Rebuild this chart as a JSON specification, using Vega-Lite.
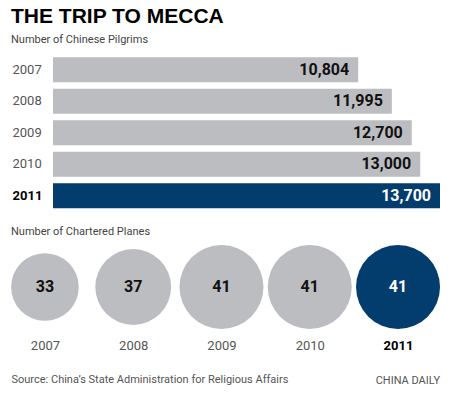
{
  "$schema": "https://vega.github.io/schema/vega-lite/v6.json",
  "background": "white",
  "padding": {"left": 11, "top": 6, "right": 10, "bottom": 4},
  "columns": 1,
  "spacing": 14,
  "title": {"text": "CHINA DAILY", "orient": "bottom", "anchor": "end", "font": "Roboto", "fontSize": 11, "fontWeight": "normal", "color": "#555555", "offset": -9},
  "config": {"view": {"stroke": null}, "font": "Roboto"},
  "concat": [
    {
      "width": 429,
      "height": {"step": 31.5},
      "title": {"text": "THE TRIP TO MECCA", "subtitle": "Number of Chinese Pilgrims", "anchor": "start", "font": "Liberation Sans", "fontSize": 21, "fontWeight": "bold", "color": "#000000", "subtitleFont": "Roboto", "subtitleFontSize": 11, "subtitleColor": "#444444", "subtitlePadding": 7, "offset": 9},
      "data": {"values": [
        {"year": "2007", "pilgrims": 10804},
        {"year": "2008", "pilgrims": 11995},
        {"year": "2009", "pilgrims": 12700},
        {"year": "2010", "pilgrims": 13000},
        {"year": "2011", "pilgrims": 13700}
      ]},
      "encoding": {
        "y": {"field": "year", "type": "ordinal", "scale": {"paddingInner": 0.2, "paddingOuter": 0.1},
          "axis": {"title": null, "domain": false, "ticks": false, "tickSize": 0, "labelAlign": "left", "labelPadding": -1, "labelFont": "Roboto", "labelFontSize": 13,
            "labelColor": {"condition": {"test": "datum.value == '2011'", "value": "#000000"}, "value": "#555555"},
            "labelFontWeight": {"condition": {"test": "datum.value == '2011'", "value": "bold"}, "value": "normal"}}},
        "x": {"field": "pilgrims", "type": "quantitative", "scale": {"nice": false, "domain": [-1487, 13700]}, "axis": null}
      },
      "layer": [
        {"mark": {"type": "bar"},
         "encoding": {"color": {"condition": {"test": "datum.year == '2011'", "value": "#023d6e"}, "value": "#bcbdc0"}}},
        {"mark": {"type": "text", "align": "right", "dx": -9, "font": "Roboto", "fontSize": 16, "fontWeight": "bold"},
         "encoding": {"text": {"field": "pilgrims", "type": "quantitative", "format": ","},
           "color": {"condition": {"test": "datum.year == '2011'", "value": "#ffffff"}, "value": "#111111"}}}
      ]
    },
    {
      "width": 429,
      "height": 84,
      "title": {"text": "Number of Chartered Planes", "anchor": "start", "font": "Roboto", "fontSize": 11, "fontWeight": "normal", "color": "#444444", "offset": 8},
      "data": {"values": [
        {"year": "2007", "planes": 33},
        {"year": "2008", "planes": 37},
        {"year": "2009", "planes": 41},
        {"year": "2010", "planes": 41},
        {"year": "2011", "planes": 41}
      ]},
      "encoding": {
        "x": {"field": "year", "type": "ordinal", "scale": {"type": "point", "padding": 0.43, "align": 0.447},
          "axis": {"title": "Source: China\u2019s State Administration for Religious Affairs", "titleAnchor": "start", "titleAlign": "left", "titleFont": "Roboto", "titleFontSize": 11, "titleFontWeight": "normal", "titleColor": "#555555", "titlePadding": 21,
            "domain": false, "ticks": false, "tickSize": 0, "labelPadding": 10, "labelAngle": 0, "labelFont": "Roboto", "labelFontSize": 13,
            "labelColor": {"condition": {"test": "datum.value == '2011'", "value": "#000000"}, "value": "#555555"},
            "labelFontWeight": {"condition": {"test": "datum.value == '2011'", "value": "bold"}, "value": "normal"}}}
      },
      "layer": [
        {"mark": {"type": "circle", "opacity": 1},
         "encoding": {
           "size": {"field": "planes", "type": "quantitative", "scale": {"type": "pow", "exponent": 2, "domain": [0, 41], "range": [0, 7056]}, "legend": null},
           "color": {"condition": {"test": "datum.year == '2011'", "value": "#023d6e"}, "value": "#bcbdc0"}}},
        {"mark": {"type": "text", "font": "Roboto", "fontSize": 16, "fontWeight": "bold"},
         "encoding": {"text": {"field": "planes", "type": "quantitative"},
           "color": {"condition": {"test": "datum.year == '2011'", "value": "#ffffff"}, "value": "#111111"}}}
      ]
    }
  ]
}
